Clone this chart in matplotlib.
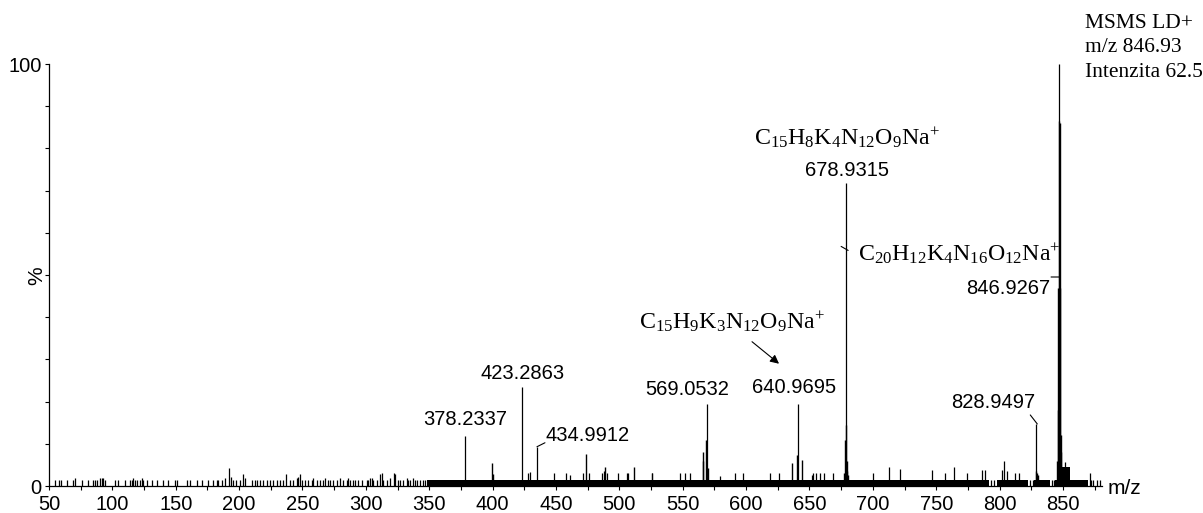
import matplotlib
matplotlib.use("Agg")
import matplotlib.pyplot as plt
from matplotlib.transforms import offset_copy

plt.rcParams['font.family'] = ['Liberation Sans', 'DejaVu Sans']
plt.rcParams['mathtext.fontset'] = 'custom'
plt.rcParams['mathtext.rm'] = 'Liberation Serif'
plt.rcParams['mathtext.it'] = 'Liberation Serif:italic'

# labelled peaks (m/z, relative intensity %)
peak_mz = [378.2337, 423.2863, 434.9912, 569.0532, 640.9695, 678.9315, 828.9497, 846.9267]
peak_int = [11.9, 23.5, 9.3, 19.5, 19.5, 71.7, 14.7, 100.0]
peak_labels = ['378.2337', '423.2863', '434.9912', '569.0532', '640.9695', '678.9315', '828.9497', '846.9267']

# unlabelled side peaks and isotopic shoulders
side_mz = [399.7, 400.3, 473.7, 488.7, 511.9, 565.7, 566.3, 568.3, 569.6,
           636.0, 640.4, 643.8, 677.6, 678.2, 678.6, 679.3, 679.8, 680.5,
           828.4, 829.5, 830.5,
           845.5, 846.0, 846.3, 846.6, 847.3, 847.7, 848.1, 848.5]
side_int = [5.4, 2.8, 7.6, 4.5, 4.5, 8.1, 6.0, 10.9, 4.3,
            5.5, 7.3, 6.2, 3.0, 11.0, 14.5, 6.0, 3.5, 2.5,
            3.5, 3.0, 2.5,
            6.0, 18.0, 47.0, 86.5, 86.0, 47.0, 12.0, 8.0]

# low-mass sparse noise (50-350)
noise_mz = [54.7, 58.2, 59.5, 64.0, 68.7, 70.5, 75.8, 81.0, 85.0, 86.3, 87.6, 90.2,
            91.6, 92.9, 94.2, 102.0, 104.7, 110.0, 113.9, 115.2, 116.5, 117.9, 119.2,
            121.8, 123.1, 124.4, 127.1, 131.0, 135.0, 140.2, 144.2, 149.4, 150.7,
            158.6, 161.3, 166.5, 170.5, 175.7, 179.7, 182.3, 183.6, 186.2, 188.9,
            192.3, 193.6, 195.4, 197.5, 200.7, 203.3, 204.6, 209.9, 212.5, 213.9,
            216.5, 219.1, 221.7, 224.4, 227.0, 229.6, 232.3, 234.4, 237.0, 240.2,
            242.8, 245.4, 246.7, 248.0, 249.4, 252.0, 254.6, 257.2, 258.6, 261.2,
            263.8, 266.5, 267.8, 270.4, 271.7, 274.3, 277.0, 279.6, 282.2, 284.9,
            286.2, 287.5, 290.1, 291.4, 294.1, 296.7, 300.6, 302.0, 303.3, 304.6,
            305.9, 308.5, 311.2, 313.8, 316.4, 319.0, 323.0, 325.6, 327.0, 329.6,
            332.2, 333.5, 334.9, 337.5, 338.8, 340.1, 342.8, 345.4, 346.7]
noise_int = [1.5, 1.5, 1.5, 1.5, 1.5, 1.9, 1.5, 1.5, 1.5, 1.5, 1.5, 1.9,
             1.9, 1.9, 1.5, 1.5, 1.5, 1.5, 1.5, 1.5, 1.9, 1.5, 1.5,
             1.5, 1.9, 1.5, 1.5, 1.5, 1.5, 1.5, 1.5, 1.5, 1.5,
             1.5, 1.5, 1.5, 1.5, 1.5, 1.5, 1.5, 1.5, 1.5, 1.9,
             4.3, 2.2, 1.5, 1.5, 1.5, 2.8, 1.9, 1.5, 1.5, 1.5,
             1.5, 1.5, 1.5, 1.5, 1.5, 1.5, 1.5, 1.5, 2.8, 1.5,
             1.5, 1.9, 2.2, 2.8, 1.5, 1.5, 1.5, 1.5, 1.9, 1.5,
             1.5, 1.5, 1.9, 1.5, 1.5, 1.5, 1.5, 1.9, 1.5, 1.5,
             1.9, 1.5, 1.5, 1.5, 1.5, 1.5, 1.5, 1.5, 1.9, 1.9,
             1.5, 1.5, 2.8, 1.5, 1.5, 1.9, 2.8, 1.5, 1.5, 1.5,
             1.9, 1.5, 1.5, 1.9, 1.5, 1.5, 1.5, 1.5, 1.5]

# dense noise floor above m/z 350
band_start = [348.0, 798.0, 827.0, 844.0, 849.0]
band_end = [792.0, 822.5, 840.0, 870.0, 855.5]
band_int = [1.35, 1.35, 1.35, 1.35, 4.6]

# spikes standing above the noise floor
spike_mz = [312.5, 322.2, 428.2, 429.5, 448.4, 457.6, 461.0, 471.5, 476.0, 486.0,
            487.9, 490.0, 499.2, 505.8, 507.0, 525.5, 526.0, 548.0, 551.8, 555.7,
            579.4, 591.2, 597.3, 618.8, 625.9, 651.7, 653.0, 655.0, 658.3, 661.4,
            668.3, 700.4, 713.0, 721.4, 746.4, 757.0, 764.0, 774.0, 786.0, 788.5,
            793.0, 795.5, 801.6, 803.5, 805.6, 812.0, 815.6, 824.0, 826.0, 841.0,
            843.0, 851.6, 871.3, 872.5, 874.0, 876.5, 879.0]
spike_int = [3.0, 3.0, 3.0, 3.2, 3.0, 3.0, 2.5, 3.0, 3.0, 3.0,
             3.5, 3.0, 3.0, 3.0, 3.0, 3.0, 3.0, 3.0, 3.0, 3.0,
             2.4, 3.0, 3.0, 3.0, 3.0, 2.7, 3.0, 3.0, 3.0, 3.0,
             3.0, 3.0, 4.5, 4.0, 3.7, 3.0, 4.5, 3.0, 3.8, 3.8,
             1.5, 1.5, 3.8, 5.9, 3.5, 3.0, 3.0, 1.5, 1.5, 1.5,
             1.5, 5.8, 3.0, 1.5, 1.5, 1.5, 1.5]

x_major = list(range(50, 851, 50))
x_minor = list(range(75, 876, 50))
y_ticks = list(range(0, 101, 10))

W, H = 1203, 513
fig = plt.figure(figsize=(W / 100, H / 100), dpi=100)
ax = fig.add_axes([49 / W, 27 / H, 1053 / W, 422 / H])
ax.set_xlim(50, 880.8)
ax.set_ylim(0, 100)

for s, e, lv in zip(band_start, band_end, band_int):
    ax.fill_between([s, e], 0, lv, color='black', linewidth=0)
ax.vlines(noise_mz, 0, noise_int, colors='black', linewidth=0.9)
ax.vlines(spike_mz, 0, spike_int, colors='black', linewidth=0.9)
ax.vlines(side_mz, 0, side_int, colors='black', linewidth=1.0)
ax.vlines(peak_mz, 0, peak_int, colors='black', linewidth=0.9)

for sp in ['top', 'right']:
    ax.spines[sp].set_visible(False)
for sp in ['left', 'bottom']:
    ax.spines[sp].set_linewidth(0.9)

ax.set_xticks(x_major)
ax.set_xticks(x_minor, minor=True)
ax.set_yticks(y_ticks)
ax.set_yticklabels(['0'] + [''] * 9 + ['100'])
ax.tick_params(axis='both', which='both', direction='out', length=3.2, width=0.8,
               labelsize=14.5, pad=2)
ax.tick_params(axis='x', which='major', pad=3)


def at(dx, dy):
    return offset_copy(ax.transData, fig=fig, x=dx, y=dy, units='dots')


def leader(mz, y, a, b, style='-'):
    ax.annotate('', xy=(mz, y), xycoords=at(*b), xytext=(mz, y), textcoords=at(*a),
                arrowprops=dict(arrowstyle=style, color='black', lw=0.8,
                                shrinkA=0, shrinkB=0, mutation_scale=13))


# numeric labels: offsets in pixels from each peak top
lab_dx = [0, 0, 9, -20, -4, 1, -43, -9]
lab_dy = [16, 13, 11, 14, 16, 13, 21, -224]
lab_ha = ['center', 'center', 'left', 'center', 'center', 'center', 'center', 'right']
for mz, h, t, dx, dy, ha in zip(peak_mz, peak_int, peak_labels, lab_dx, lab_dy, lab_ha):
    ax.text(mz, h, t, transform=at(dx, dy), ha=ha, va='center', fontsize=14.5)

leader(peak_mz[2], peak_int[2], (0, 0), (8, 4))
leader(peak_mz[6], peak_int[6], (1, 0), (-6, 9))
leader(peak_mz[7], peak_int[7], (1, -213), (-8, -213))
leader(peak_mz[5], peak_int[5], (2, -67), (-5, -63))
leader(peak_mz[4], peak_int[4], (-46, 62), (-19, 40), style='-|>')

serif = dict(family=['Liberation Serif', 'DejaVu Serif'], fontsize=17.2, va='center')
ax.text(peak_mz[5], peak_int[5], r'C$_{15}$H$_{8}$K$_{4}$N$_{12}$O$_{9}$Na$^{+}$',
        transform=at(1, 46), ha='center', **serif)
ax.text(peak_mz[5], peak_int[5], r'C$_{20}$H$_{12}$K$_{4}$N$_{16}$O$_{12}$Na$^{+}$',
        transform=at(12, -70), ha='left', **serif)
ax.text(peak_mz[4], peak_int[4], r'C$_{15}$H$_{9}$K$_{3}$N$_{12}$O$_{9}$Na$^{+}$',
        transform=at(-66, 82), ha='center', **serif)

fig.text(1085 / W, 1 - 14 / H, 'MSMS LD+\nm/z 846.93\nIntenzita 62.5',
         family=['Liberation Serif', 'DejaVu Serif'], fontsize=15.5, ha='left', va='top',
         linespacing=1.38)
fig.text(37 / W, 1 - 276 / H, '%', rotation=90, ha='center', va='center', fontsize=15)
fig.text(1108 / W, 1 - 488 / H, 'm/z', ha='left', va='center', fontsize=15)

fig.savefig('out.png', dpi=100)
